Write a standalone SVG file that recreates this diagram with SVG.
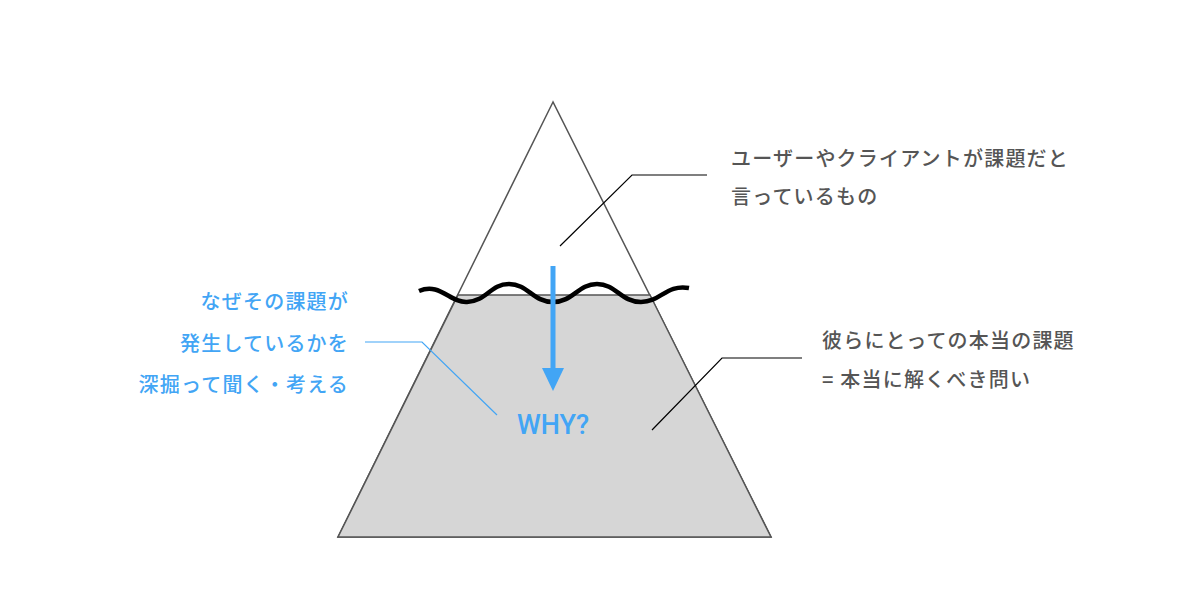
<svg xmlns="http://www.w3.org/2000/svg" width="1200" height="595" viewBox="0 0 1200 595">
<style>
.t{font-family:"Noto Sans CJK JP","Noto Sans",sans-serif;font-size:20px;font-weight:500;fill:#555;letter-spacing:1.2px}
.b{fill:#42a5f5}
</style>
<rect width="1200" height="595" fill="#fff"/>
<g id="iceberg">
<polygon points="553,102 338,537 771,537" fill="#fff" stroke="#555" stroke-width="1.5"/>
<polygon points="458,295 650,295 771,537 338,537" fill="#d6d6d6" stroke="#555" stroke-width="1.5"/>
<path d="M419,291 C440,282 450,303 467,302 C487,301 490,284 509,284 C528,284 533,302 553,302 C573,302 578,284 597,284 C616,284 621,302 641,302 C661,302 666,284 689,288" fill="none" stroke="#000" stroke-width="4.5"/>
</g>
<g id="arrow">
<line x1="553" y1="266" x2="553" y2="372" stroke="#42a5f5" stroke-width="5"/>
<polygon points="542,368 564,368 553,391" fill="#42a5f5"/>
</g>
<g id="why"><text x="553" y="434" text-anchor="middle" font-family="Roboto,'Noto Sans',sans-serif" font-size="27" font-weight="500" class="b">WHY?</text></g>
<g id="connectors" fill="none" stroke-width="1.2">
<polyline points="560,246 632,175 707,175" stroke="#000"/>
<polyline points="652,430 722,358 802,358" stroke="#000"/>
<polyline points="365,342 422,342 497,415" stroke="#42a5f5"/>
</g>
<g id="label-top">
<text class="t" x="731" y="166">ユーザーやクライアントが課題だと</text>
<text class="t" x="731" y="204">言っているもの</text>
</g>
<g id="label-bottom">
<text class="t" x="822" y="348">彼らにとっての本当の課題</text>
<text class="t" x="822" y="387">= 本当に解くべき問い</text>
</g>
<g id="label-left" text-anchor="end">
<text class="t b" x="349" y="309">なぜその課題が</text>
<text class="t b" x="349" y="351">発生しているかを</text>
<text class="t b" x="349" y="392">深掘って聞く・考える</text>
</g>
</svg>
